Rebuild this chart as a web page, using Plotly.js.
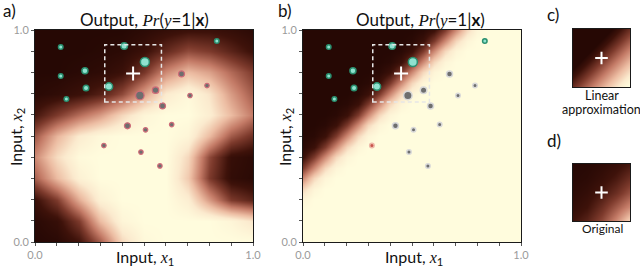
<!DOCTYPE html>
<html>
<head>
<meta charset="utf-8">
<script src="https://cdn.plot.ly/plotly-3.0.1.min.js"></script>
<style>
html,body{margin:0;padding:0;background:#fff;}
#chart{width:640px;height:268px;}
</style>
</head>
<body>
<div id="chart"></div>
<script>
// ---------- DATA ----------
// Panel a: output field, grid rows from x2=0 (bottom) to x2=1 (top)
const aGridX = [0,0.1,0.2,0.3,0.4,0.5,0.6,0.7,0.8,0.9,1.0];
const aGridY = [0,0.1,0.2,0.3,0.4,0.5,0.6,0.7,0.8,0.9,1.0];
const aRow00 = [0.00,0.02,0.12,0.40,0.80,0.97,1.00,1.00,1.00,1.00,1.00];
const aRow01 = [0.02,0.08,0.30,0.70,0.95,1.00,1.00,1.00,1.00,0.95,0.85];
const aRow02 = [0.10,0.30,0.65,0.92,1.00,1.00,1.00,0.90,0.60,0.30,0.20];
const aRow03 = [0.42,0.70,0.92,1.00,1.00,1.00,1.00,0.75,0.30,0.06,0.02];
const aRow04 = [0.55,0.82,0.98,1.00,1.00,1.00,1.00,0.80,0.35,0.08,0.03];
const aRow05 = [0.40,0.68,0.88,0.97,1.00,1.00,1.00,0.95,0.70,0.40,0.25];
const aRow06 = [0.14,0.30,0.46,0.60,0.80,0.95,1.00,1.00,0.90,0.70,0.50];
const aRow07 = [0.02,0.05,0.10,0.18,0.35,0.62,0.88,0.97,0.85,0.60,0.40];
const aRow08 = [0.00,0.00,0.02,0.04,0.10,0.28,0.55,0.70,0.62,0.45,0.30];
const aRow09 = [0.00,0.00,0.00,0.01,0.03,0.10,0.23,0.35,0.30,0.20,0.10];
const aRow10 = [0.00,0.00,0.00,0.00,0.00,0.03,0.07,0.10,0.10,0.07,0.03];

// Panel b: linear boundary; value read along diagonals (k = rowIndex - colIndex on a 0.05 grid)
const bGridStep = 0.05;
const bBandK = [3,4,5,6,7,8,9];
const bBandZ = [1.00,0.95,0.80,0.55,0.30,0.10,0.02];

// Panel c: linear approximation corners
const cGrid = [0,1];
const cRowBottom = [0.25,1.05];
const cRowTop = [-0.55,0.25];

// Panel d: original field inside the dashed box
const dGrid = [0,0.25,0.5,0.75,1];
const dRow0 = [0.12,0.20,0.35,0.55,0.80];
const dRow1 = [0.06,0.12,0.25,0.40,0.55];
const dRow2 = [0.03,0.07,0.15,0.25,0.38];
const dRow3 = [0.01,0.03,0.08,0.15,0.25];
const dRow4 = [0.00,0.01,0.04,0.08,0.14];

// Data points
const greenX = [0.118,0.409,0.834,0.504,0.229,0.118,0.234,0.339,0.144];
const greenY = [0.920,0.925,0.948,0.849,0.808,0.783,0.727,0.733,0.675];
const greenSize = [4.5,6.5,4.5,9,6,4.5,5.5,7.5,4.5];
const grayX = [0.672,0.789,0.553,0.481,0.711,0.585,0.424,0.507,0.627,0.316,0.486,0.573];
const grayY = [0.793,0.738,0.716,0.691,0.691,0.642,0.548,0.529,0.554,0.455,0.424,0.359];
const graySize = [6,4.5,6.5,8.5,4.5,6,6,4.5,4.5,4.5,4.5,4.5];
const bRedIndex = [9];

// Point of interest and its neighbourhood box
const probeX = [0.45];
const probeY = [0.795];
const boxX = [0.32,0.58];
const boxY = [0.66,0.93];

const tickValues = [0,1];
const tickLabels = ['0.0','1.0'];
const minorStep = 0.1;

// ---------- BUILD ----------
const aZ = [aRow00,aRow01,aRow02,aRow03,aRow04,aRow05,aRow06,aRow07,aRow08,aRow09,aRow10];
const bN = Math.round(1/bGridStep)+1;
const bGrid = [];
for(let i=0;i<bN;i++) bGrid.push(+(i*bGridStep).toFixed(3));
const bZ = [];
for(let i=0;i<bN;i++){
  const row=[];
  for(let j=0;j<bN;j++){
    const k=i-j;
    let v;
    if(k<bBandK[0]) v=bBandZ[0];
    else if(k>bBandK[bBandK.length-1]) v=0;
    else v=bBandZ[bBandK.indexOf(k)];
    row.push(v);
  }
  bZ.push(row);
}
const cZ = [cRowBottom,cRowTop];
const dZ = [dRow0,dRow1,dRow2,dRow3,dRow4];

const cscale = [
  [0,'rgb(38,8,4)'],
  [0.12,'rgb(62,18,10)'],
  [0.3,'rgb(125,58,44)'],
  [0.5,'rgb(195,122,102)'],
  [0.7,'rgb(236,188,162)'],
  [0.87,'rgb(251,234,206)'],
  [1,'rgb(255,252,221)']
];
function hm(z,x,y,xa,ya){
  return {type:'heatmap',z:z,x:x,y:y,xaxis:xa,yaxis:ya,colorscale:cscale,zmin:0,zmax:1,
    zsmooth:'best',showscale:false,hoverinfo:'skip'};
}
const greenFill='#8fe2cf', greenLine='#2a8f6f';
const traces = [
  hm(aZ,aGridX,aGridY,'x','y'),
  hm(bZ,bGrid,bGrid,'x2','y2'),
  hm(cZ,cGrid,cGrid,'x3','y3'),
  hm(dZ,dGrid,dGrid,'x4','y4')
];
// panel a points
traces.push({type:'scatter',mode:'markers',x:grayX,y:grayY,xaxis:'x',yaxis:'y',
  marker:{size:graySize,opacity:1,color:'#6e6e6e',line:{color:'#cf6b78',width:1.2}},hoverinfo:'skip'});
traces.push({type:'scatter',mode:'markers',x:greenX,y:greenY,xaxis:'x',yaxis:'y',
  marker:{size:greenSize,opacity:1,color:greenFill,line:{color:greenLine,width:1.5}},hoverinfo:'skip'});
// panel b points
const bGrayColors = grayX.map((_,i)=> bRedIndex.includes(i) ? '#c8554c' : '#6e6e6e');
const bGrayLines = grayX.map((_,i)=> bRedIndex.includes(i) ? '#eeb8a8' : '#d9d9d9');
traces.push({type:'scatter',mode:'markers',x:grayX,y:grayY,xaxis:'x2',yaxis:'y2',
  marker:{size:graySize,opacity:1,color:bGrayColors,line:{color:bGrayLines,width:1.5}},hoverinfo:'skip'});
traces.push({type:'scatter',mode:'markers',x:greenX,y:greenY,xaxis:'x2',yaxis:'y2',
  marker:{size:greenSize,opacity:1,color:greenFill,line:{color:greenLine,width:1.5}},hoverinfo:'skip'});
// crosses
[['x','y'],['x2','y2']].forEach(p=>{
  traces.push({type:'scatter',mode:'markers',x:probeX,y:probeY,xaxis:p[0],yaxis:p[1],
    marker:{symbol:'cross-thin',size:10,opacity:1,line:{color:'#ffffff',width:2}},hoverinfo:'skip'});
});
[['x3','y3'],['x4','y4']].forEach(p=>{
  traces.push({type:'scatter',mode:'markers',x:[0.5],y:[0.5],xaxis:p[0],yaxis:p[1],
    marker:{symbol:'cross-thin',size:9,opacity:1,line:{color:'#ffffff',width:2}},hoverinfo:'skip'});
});

const W=640,H=268;
const fx = p=>p/W, fy = p=>1-p/H;
function mainAxis(d0,d1,anchor,isY){
  return {domain:isY?[fy(d1),fy(d0)]:[fx(d0),fx(d1)],anchor:anchor,range:[0,1],
    tickmode:'array',tickvals:tickValues,ticktext:tickLabels,ticks:'outside',ticklen:3,
    tickwidth:1,tickcolor:'#555',tickfont:{family:'Lato, sans-serif',size:11,color:'#9a9a9a'},
    minor:{dtick:minorStep,tick0:0,ticks:'outside',ticklen:3,tickwidth:1,tickcolor:'#555',showgrid:false},
    showline:true,mirror:true,linecolor:'#1a1a1a',linewidth:1,showgrid:false,zeroline:false,
    fixedrange:true};
}
function smallAxis(d0,d1,anchor,isY){
  return {domain:isY?[fy(d1),fy(d0)]:[fx(d0),fx(d1)],anchor:anchor,range:[0,1],
    showticklabels:false,ticks:'',showline:true,mirror:true,linecolor:'#1a1a1a',linewidth:1,
    showgrid:false,zeroline:false,fixedrange:true};
}
const mathFont = 'Liberation Serif';
const m = s => '<span style="font-family:\''+mathFont+'\'"><i>'+s+'</i></span>';
const titleText = 'Output, '+m('Pr')+'('+m('y')+'=1|<b>x</b>)';
const xTitle = 'Input, '+m('x')+'<sub>1</sub>';
const yTitle = 'Input, '+m('x')+'<sub>2</sub>';
const baseFont = {family:'Lato, sans-serif',size:14,color:'#111'};
function ann(text,x,y,size,extra){
  return Object.assign({text:text,xref:'paper',yref:'paper',x:fx(x),y:fy(y),showarrow:false,
    xanchor:'center',yanchor:'middle',borderpad:0,font:Object.assign({},baseFont,{size:size})},extra||{});
}
const annotations = [
  ann('a)',2,10,17,{xanchor:'left'}),
  ann('b)',277,11,17,{xanchor:'left'}),
  ann('c)',546,15,17,{xanchor:'left'}),
  ann('d)',546,140,17,{xanchor:'left'}),
  ann(titleText,144,19,17),
  ann(titleText,420,19,17),
  ann(xTitle,145,257,16),
  ann(xTitle,414,257,16),
  ann(yTitle,16,137,16,{textangle:-90}),
  ann(yTitle,285,137,16,{textangle:-90}),
  ann('Linear',602,95,12.5),
  ann('approximation',601,110,12.5),
  ann('Original',602,228,12)
];
function box(xr,yr){
  return {type:'rect',xref:xr,yref:yr,x0:boxX[0],x1:boxX[1],y0:boxY[0],y1:boxY[1],
    line:{color:'#e6e6e6',width:1.5,dash:'4px,3px'},fillcolor:'rgba(0,0,0,0)'};
}
const layout = {
  width:W,height:H,margin:{l:0,r:0,t:0,b:0},paper_bgcolor:'#fff',plot_bgcolor:'#fff',
  showlegend:false,
  xaxis:mainAxis(35,253,'y',false), yaxis:mainAxis(30,242,'x',true),
  xaxis2:mainAxis(303,521,'y2',false), yaxis2:mainAxis(30,242,'x2',true),
  xaxis3:smallAxis(573,630,'y3',false), yaxis3:smallAxis(29,87,'x3',true),
  xaxis4:smallAxis(573,630,'y4',false), yaxis4:smallAxis(164,221,'x4',true),
  annotations:annotations,
  shapes:[box('x','y'),box('x2','y2')]
};
Plotly.newPlot('chart',traces,layout,{staticPlot:true,displayModeBar:false});
</script>
</body>
</html>
